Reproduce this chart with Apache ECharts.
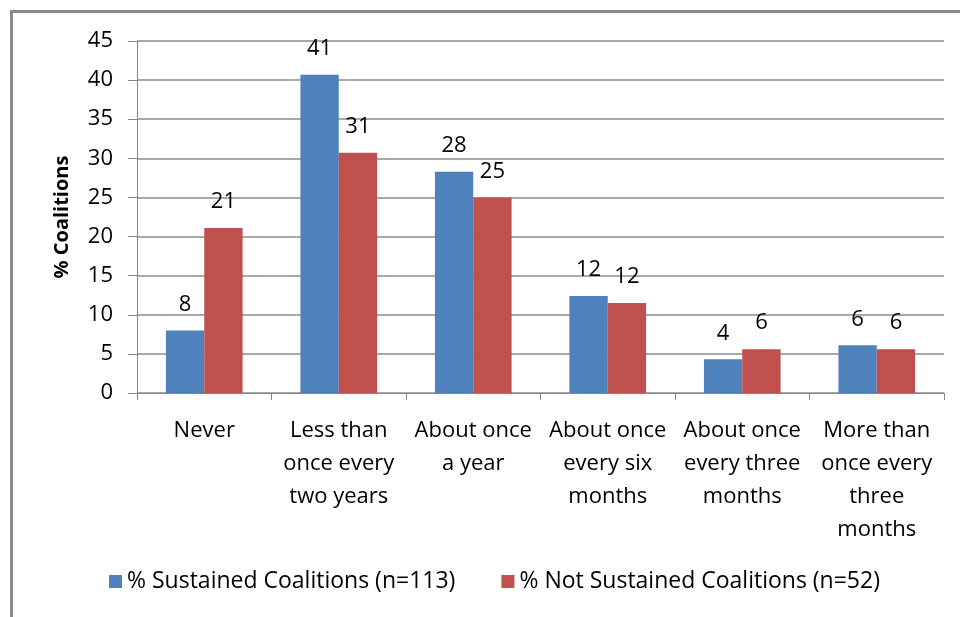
<!DOCTYPE html>
<html>
<head>
<meta charset="utf-8">
<script src="https://cdn.jsdelivr.net/npm/echarts@6/dist/echarts.min.js"></script>
<style>
  html, body { margin: 0; padding: 0; background: #fff; }
  #frame {
    position: absolute; left: 10px; top: 10px; width: 970px; height: 620px;
    border-top: 3px solid #8a8a8a; border-left: 3px solid #8a8a8a;
  }
  #chart { position: absolute; left: 0; top: 0; width: 960px; height: 617px; }
</style>
</head>
<body>
<div id="frame"></div>
<div id="chart"></div>
<script>
// categories (line breaks as in the picture)
var categories = [
  'Never',
  'Less than\nonce every\ntwo years',
  'About once\na year',
  'About once\nevery six\nmonths',
  'About once\nevery three\nmonths',
  'More than\nonce every\nthree\nmonths'
];
var sustained = [8.0, 40.7, 28.3, 12.4, 4.3, 6.1];
var notSustained = [21.1, 30.7, 25.0, 11.5, 5.6, 5.6];
var seriesNames = ['% Sustained Coalitions (n=113)', '% Not Sustained Coalitions (n=52)'];
var yTicks = [0, 45, 5]; // min, max, interval

var font = '"Open Sans", "Noto Sans", sans-serif';
var myChart = echarts.init(document.getElementById('chart'));

var labelOpt = {
  show: true,
  position: 'top',
  distance: 15,
  color: '#000',
  fontSize: 22,
  fontFamily: font,
  formatter: function (p) { return Math.round(p.value); }
};

var option = {
  animation: false,
  color: ['#4F81BD', '#C0504D'],
  grid: { left: 137, right: 16, top: 41, bottom: 224 },
  legend: {
    bottom: 19,
    left: 104,
    itemWidth: 13,
    itemHeight: 13,
    itemGap: 46,
    icon: 'rect',
    textStyle: { fontSize: 23, fontFamily: font, color: '#000' },
    data: seriesNames
  },
  xAxis: {
    type: 'category',
    data: categories,
    axisLine: { lineStyle: { color: '#868686', width: 1 } },
    axisTick: { show: true, length: 7, alignWithLabel: false, lineStyle: { color: '#868686' } },
    axisLabel: {
      interval: 0,
      margin: 21,
      color: '#000',
      fontSize: 22,
      fontFamily: font,
      lineHeight: 33
    }
  },
  yAxis: {
    type: 'value',
    min: yTicks[0],
    max: yTicks[1],
    interval: yTicks[2],
    name: '% Coalitions',
    nameLocation: 'middle',
    nameGap: 65,
    nameTextStyle: { fontSize: 20, fontWeight: 'bold', fontFamily: font, color: '#000' },
    axisLine: { show: true, lineStyle: { color: '#868686' } },
    axisTick: { show: true, length: 9, lineStyle: { color: '#868686' } },
    axisLabel: { color: '#000', fontSize: 22, fontFamily: font, margin: 24 },
    splitLine: { lineStyle: { color: '#8c8c8c', width: 1.5 } }
  },
  series: [
    {
      name: seriesNames[0],
      type: 'bar',
      data: sustained,
      barGap: '0%',
      barCategoryGap: '43%',
      label: labelOpt
    },
    {
      name: seriesNames[1],
      type: 'bar',
      data: notSustained,
      label: labelOpt
    }
  ]
};

myChart.setOption(option);
</script>
</body>
</html>
